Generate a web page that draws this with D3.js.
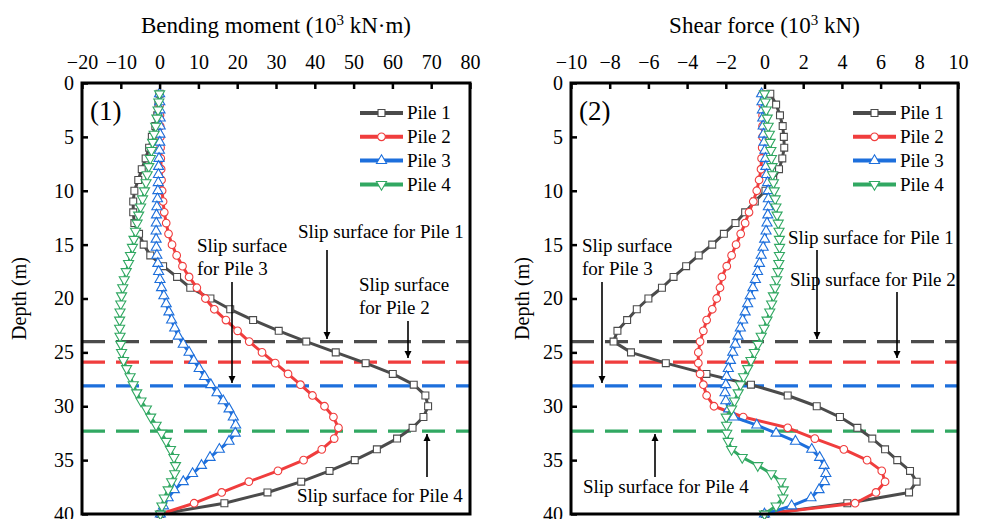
<!DOCTYPE html>
<html>
<head>
<meta charset="utf-8">
<script src="https://cdn.jsdelivr.net/npm/d3@7/dist/d3.min.js"></script>
<style>
  html, body { margin: 0; padding: 0; background: #fff; }
  svg { display: block; font-family: "Liberation Serif", "Times New Roman", serif; }
</style>
</head>
<body>
<svg id="chart" width="984" height="519"></svg>
<script>
// ---------------- DATA ----------------
const pileNames = ["Pile 1", "Pile 2", "Pile 3", "Pile 4"];
const pileColors = ["#4b4b4b", "#f03d3d", "#1d6fdc", "#31a862"];

const depth1 = [1,2,3,4,5,6,7,8,9,10,11,12,13,14,15,16,17,18,19,20,21,22,23,24,25,26,27,28,29,30,31,32,33,34,35,36,37,38,39,40];
const depth2 = [1,1.75,2.5,3.25,4,4.75,5.5,6.25,7,7.75,8.5,9.25,10,10.75,11.5,12.25,13,13.75,14.5,15.25,16,16.75,17.5,18.25,19,19.75,20.5,21.25,22,22.75,23.5,24.25,25,25.75,26.5,27.25,28,28.75,29.5,30.25,31,31.75,32.5,33.25,34,34.75,35.5,36.25,37,37.75,38.5,39.25,40];

// Bending moment (10^3 kN·m)
const bmPile1 = [0,-0.3,-0.6,-1.1,-2.0,-2.7,-3.6,-4.6,-5.5,-6.5,-6.8,-6.8,-6.5,-5.3,-4.1,-2.4,0.9,4.5,7.9,13.1,18.2,24.1,30.7,37.8,45.4,53.1,60.1,65.5,68.5,69.2,68.0,65.2,61.2,56.0,50.3,43.8,36.5,27.8,16.7,0.2];
const bmPile2 = [0,0.05,0.1,0.15,0.2,0.25,0.3,0.4,0.5,0.65,0.9,1.2,1.7,2.3,3.2,4.4,5.9,7.6,9.6,11.8,14.1,17.1,20.1,23.1,26.4,29.8,33.1,36.3,39.4,42.5,44.8,46.1,45.0,41.8,37.1,30.5,23.0,16.0,8.9,0.2];
const bmPile3 = [0,0.05,0.1,0.15,0.15,0.1,0.05,-0.05,-0.15,-0.25,-0.3,-0.35,-0.45,-0.55,-0.7,-0.8,-0.85,-0.9,-0.9,-0.85,-0.7,-0.45,-0.25,0.1,0.5,1.1,1.7,2.4,3.1,3.9,4.8,6.1,7.6,8.8,10.2,11.6,13.2,14.8,16.4,17.9,19.0,19.6,19.5,17.9,15.4,13.0,10.8,8.5,6.1,3.8,2.2,1.0,0.2];
const bmPile4 = [0,-0.2,-0.4,-0.7,-1.0,-1.4,-1.8,-2.1,-2.4,-2.8,-3.2,-3.5,-3.9,-4.4,-4.9,-5.4,-5.8,-6.2,-6.6,-7.0,-7.5,-8.0,-8.6,-9.1,-9.5,-9.8,-10.0,-10.2,-10.3,-10.3,-10.2,-10.0,-9.8,-9.3,-8.5,-7.6,-6.8,-5.9,-4.8,-3.4,-2.3,-0.9,0.5,1.7,2.8,3.7,4.1,3.9,3.1,2.2,1.2,0.6,0.2];

// Shear force (10^3 kN)
const sfPile1 = [0.3,0.6,0.8,0.94,1.0,1.02,0.92,0.75,0.45,0.05,-0.5,-1.0,-1.5,-2.1,-2.7,-3.4,-4.05,-4.7,-5.3,-6.0,-6.6,-7.1,-7.6,-7.8,-6.9,-5.1,-3.0,-0.7,1.2,2.7,3.9,4.8,5.57,6.23,6.86,7.52,7.86,7.47,4.28,0.03];
const sfPile2 = [-0.1,-0.1,-0.1,-0.1,-0.1,-0.12,-0.15,-0.18,-0.28,-0.4,-0.58,-0.8,-1.0,-1.23,-1.47,-1.7,-1.95,-2.2,-2.3,-2.47,-2.7,-2.99,-3.16,-3.33,-3.42,-3.42,-3.33,-3.16,-2.99,-2.61,-1.1,1.2,2.6,4.1,5.3,6.06,6.23,5.76,4.68,0.03];
const sfPile3 = [-0.15,-0.13,-0.11,-0.09,-0.07,-0.05,-0.02,0.02,0.05,0.07,0.11,0.16,0.19,0.2,0.2,0.17,0.13,0.08,0.01,-0.07,-0.17,-0.26,-0.36,-0.47,-0.6,-0.74,-0.87,-1.0,-1.13,-1.25,-1.37,-1.51,-1.64,-1.76,-1.87,-1.96,-2.0,-2.04,-2.0,-1.85,-1.6,-0.4,0.6,1.6,2.44,2.85,3.08,3.17,3.1,2.82,2.4,1.4,0.0];
const sfPile4 = [0,0.04,0.09,0.14,0.19,0.25,0.29,0.33,0.36,0.39,0.42,0.46,0.5,0.55,0.59,0.65,0.71,0.75,0.77,0.78,0.77,0.74,0.7,0.63,0.55,0.46,0.37,0.27,0.13,-0.02,-0.17,-0.34,-0.52,-0.7,-0.87,-1.08,-1.24,-1.36,-1.55,-1.7,-1.98,-1.96,-1.95,-1.88,-1.7,-1.15,-0.35,0.35,0.85,0.97,0.95,0.6,0.0];

const slipDepths = [24, 25.9, 28.1, 32.3];   // slip surface depth of Pile 1..4 (m)
const bmTicks = [-20,-10,0,10,20,30,40,50,60,70,80];
const sfTicks = [-10,-8,-6,-4,-2,0,2,4,6,8,10];
const depthTicks = [0,5,10,15,20,25,30,35,40];

// ---------------- DRAW ----------------
const svg = d3.select("#chart");
const defs = svg.append("defs");
defs.append("marker").attr("id", "arrow")
  .attr("viewBox", "0 0 10 10").attr("refX", 10).attr("refY", 5)
  .attr("markerWidth", 7).attr("markerHeight", 9).attr("markerUnits", "userSpaceOnUse")
  .attr("orient", "auto")
  .append("path").attr("d", "M0,0 L10,5 L0,10 Z").attr("fill", "#000");

const y = d3.scaleLinear().domain([0, 40]).range([83, 514]);

function symbolFor(i) {
  return [d3.symbolSquare, d3.symbolCircle, d3.symbolTriangle, d3.symbolTriangle][i];
}
function symbolSize(i) { return [48, 46, 44, 44][i]; }

function drawPanel(opts) {
  const { x, ticks, series, depths, title, label, annots, legendX, yTitleX } = opts;
  const g = svg.append("g");
  const [x0, x1] = x.range();
  const [y0, y1] = y.range();

  // slip-surface dashed lines
  slipDepths.forEach((d, i) => {
    g.append("line")
      .attr("x1", x0).attr("x2", x1).attr("y1", y(d)).attr("y2", y(d))
      .attr("stroke", pileColors[i]).attr("stroke-width", 3.2)
      .attr("stroke-dasharray", "23,11");
  });

  // series
  series.forEach((vals, i) => {
    const pts = vals.map((v, k) => [v, depths[i][k]]);
    const line = d3.line().x(p => x(p[0])).y(p => y(p[1]));
    g.append("path").datum(pts).attr("d", line)
      .attr("fill", "none").attr("stroke", pileColors[i]).attr("stroke-width", 3)
      .attr("stroke-linejoin", "round");
    const sym = d3.symbol().type(symbolFor(i)).size(symbolSize(i));
    g.selectAll(null).data(pts).enter().append("path")
      .attr("d", sym)
      .attr("transform", p => `translate(${x(p[0])},${y(p[1])})` + (i === 3 ? " rotate(180)" : ""))
      .attr("fill", "#fff").attr("stroke", pileColors[i]).attr("stroke-width", 1.1);
  });

  // axes
  const ax = d3.axisTop(x).tickValues(ticks).tickSizeInner(-6).tickSizeOuter(0).tickPadding(14);
  const axG = g.append("g").attr("transform", `translate(0,${y0})`).call(ax);
  const ay = d3.axisLeft(y).tickValues(depthTicks).tickSizeInner(-6).tickSizeOuter(0).tickPadding(8);
  const ayG = g.append("g").attr("transform", `translate(${x0},0)`).call(ay);
  [axG, ayG].forEach(a => {
    a.select(".domain").remove();
    a.selectAll(".tick line").attr("stroke", "#000").attr("stroke-width", 2.5);
    a.selectAll(".tick text").attr("fill", "#000").style("font-size", "20px")
      .style("font-family", "'Liberation Serif', serif");
  });

  // frame
  g.append("rect").attr("x", x0).attr("y", y0).attr("width", x1 - x0).attr("height", y1 - y0)
    .attr("fill", "none").attr("stroke", "#000").attr("stroke-width", 3);

  // titles
  const t = g.append("text").attr("x", (x0 + x1) / 2).attr("y", 33)
    .attr("text-anchor", "middle").style("font-size", "23px");
  t.append("tspan").text(title[0]);
  t.append("tspan").attr("dy", -8).style("font-size", "15px").text("3");
  t.append("tspan").attr("dy", 8).text(title[1]);

  g.append("text").attr("transform", `translate(${yTitleX},${(y0 + y1) / 2}) rotate(-90)`)
    .attr("text-anchor", "middle").style("font-size", "20px").text("Depth (m)");

  g.append("text").attr("x", x0 + 8).attr("y", 120).style("font-size", "27px").text(label);

  // legend
  pileNames.forEach((name, i) => {
    const ly = 113 + i * 23.8;
    g.append("line").attr("x1", legendX).attr("x2", legendX + 43).attr("y1", ly).attr("y2", ly)
      .attr("stroke", pileColors[i]).attr("stroke-width", 4);
    g.append("path").attr("d", d3.symbol().type(symbolFor(i)).size(symbolSize(i))())
      .attr("transform", `translate(${legendX + 21.5},${ly})` + (i === 3 ? " rotate(180)" : ""))
      .attr("fill", "#fff").attr("stroke", pileColors[i]).attr("stroke-width", 1.1);
    g.append("text").attr("x", legendX + 47).attr("y", ly).attr("dy", "0.34em")
      .style("font-size", "19px").text(name);
  });

  // annotations
  annots.forEach(a => {
    a.lines.forEach((s, k) => {
      g.append("text").attr("x", a.tx).attr("y", a.ty + k * 23).attr("dy", "0.34em")
        .style("font-size", "19px").text(s);
    });
    g.append("line").attr("x1", a.ax).attr("x2", a.ax).attr("y1", a.ay1).attr("y2", a.ay2)
      .attr("stroke", "#000").attr("stroke-width", 1.6).attr("marker-end", "url(#arrow)");
  });
}

const xBM = d3.scaleLinear().domain([-20, 80]).range([82, 470]);
const xSF = d3.scaleLinear().domain([-10, 10]).range([571, 958]);

drawPanel({
  x: xBM, ticks: bmTicks,
  series: [bmPile1, bmPile2, bmPile3, bmPile4],
  depths: [depth1, depth1, depth2, depth2],
  title: ["Bending moment (10", " kN\u00B7m)"], label: "(1)",
  legendX: 360, yTitleX: 26,
  annots: [
    { lines: ["Slip surface for Pile 1"], tx: 298, ty: 232, ax: 327, ay1: 250, ay2: 339 },
    { lines: ["Slip surface", "for Pile 2"], tx: 359, ty: 285, ax: 408, ay1: 321, ay2: 358 },
    { lines: ["Slip surface", "for Pile 3"], tx: 197, ty: 246, ax: 232, ay1: 282, ay2: 383 },
    { lines: ["Slip surface for Pile 4"], tx: 297, ty: 496, ax: 427, ay1: 477, ay2: 434 }
  ]
});

drawPanel({
  x: xSF, ticks: sfTicks,
  series: [sfPile1, sfPile2, sfPile3, sfPile4],
  depths: [depth1, depth1, depth2, depth2],
  title: ["Shear force (10", " kN)"], label: "(2)",
  legendX: 853, yTitleX: 529,
  annots: [
    { lines: ["Slip surface for Pile 1"], tx: 788, ty: 238, ax: 817, ay1: 250, ay2: 339 },
    { lines: ["Slip surface for Pile 2"], tx: 790, ty: 280, ax: 897, ay1: 292, ay2: 358 },
    { lines: ["Slip surface", "for Pile 3"], tx: 582, ty: 246, ax: 602, ay1: 282, ay2: 383 },
    { lines: ["Slip surface for Pile 4"], tx: 583, ty: 487, ax: 655, ay1: 477, ay2: 434 }
  ]
});
</script>
</body>
</html>
